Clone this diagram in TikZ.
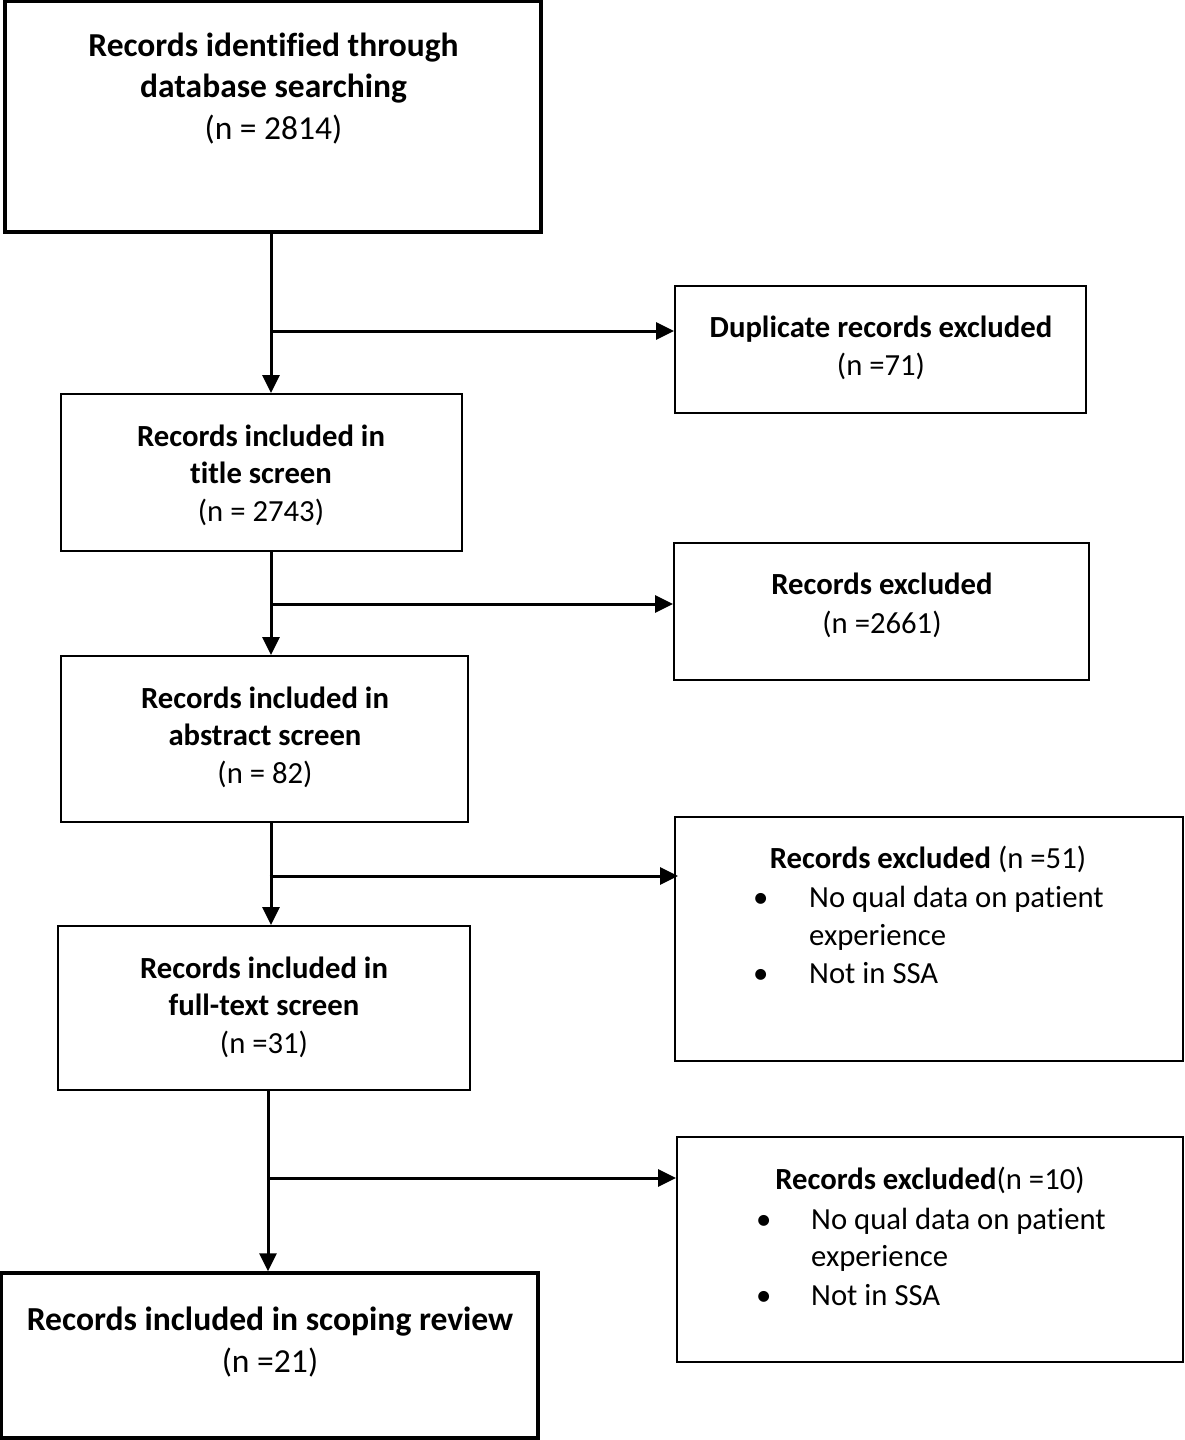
\documentclass[tikz,border=0pt]{standalone}
\usepackage{fontspec}
\setmainfont{Carlito}[Ligatures={NoCommon,NoContextual}]
\usetikzlibrary{arrows.meta}
\begin{document}
\begin{tikzpicture}[x=1pt,y=-1pt,
  thinbox/.style={draw=black,line width=2pt,rectangle,inner sep=0pt},
  thickbox/.style={draw=black,line width=3.5pt,rectangle,inner sep=0pt},
  big/.style={font=\fontsize{33.5}{41}\selectfont,anchor=base,inner sep=0pt},
  sml/.style={font=\fontsize{30.7}{37}\selectfont,anchor=base,inner sep=0pt},
  fin/.style={font=\fontsize{33.6}{42}\selectfont,anchor=base,inner sep=0pt},
  bul/.style={font=\fontsize{30.7}{37}\selectfont,anchor=base west,inner sep=0pt},
  arr/.style={line width=3pt,-{Triangle[length=18pt,width=17pt]}}]
\useasboundingbox (0,0) rectangle (1184,1440);
% boxes
\node[thickbox,minimum width=536pt,minimum height=231pt] (A) at (273,116.5) {};
\node[thinbox,minimum width=411pt,minimum height=127pt] (dup) at (880.5,349.5) {};
\node[thinbox,minimum width=401pt,minimum height=157pt] (title) at (261.5,472.5) {};
\node[thinbox,minimum width=415pt,minimum height=137pt] (exa) at (881.5,611.5) {};
\node[thinbox,minimum width=407pt,minimum height=166pt] (abs) at (264.5,739) {};
\node[thinbox,minimum width=508pt,minimum height=244pt] (exb) at (929,939) {};
\node[thinbox,minimum width=412pt,minimum height=164pt] (full) at (264,1008) {};
\node[thinbox,minimum width=506pt,minimum height=225pt] (exc) at (930,1249.5) {};
\node[thickbox,minimum width=537pt,minimum height=165pt] (final) at (269.5,1355.5) {};
% texts
\node[big] (a1) at (273.5,56.5) {\textbf{Records identified through}};
\node[big] (a2) at (273.5,97.5) {\textbf{database searching}};
\node[big] (a3) at (273.5,139.5) {(n = 2814)};
\node[sml] (d1) at (881,337.5) {\textbf{Duplicate records excluded}};
\node[sml] (d2) at (881,375.5) {(n =71)};
\node[sml] (t1) at (261,446.5) {\textbf{Records included in}};
\node[sml] (t2) at (261,483.5) {\textbf{title screen}};
\node[sml] (t3) at (261,521.5) {(n = 2743)};
\node[sml] (e1) at (882,594.5) {\textbf{Records excluded}};
\node[sml] (e2) at (882,633.5) {(n =2661)};
\node[sml] (b1) at (265,708.5) {\textbf{Records included in}};
\node[sml] (b2) at (265,745.5) {\textbf{abstract screen}};
\node[sml] (b3) at (265,783.5) {(n = 82)};
\node[sml] (f1) at (264,978.5) {\textbf{Records included in}};
\node[sml] (f2) at (264,1015.5) {\textbf{full-text screen}};
\node[sml] (f3) at (264,1053.5) {(n =31)};
\node[fin] (g1) at (270,1330) {\textbf{Records included in scoping review}};
\node[fin] (g2) at (270,1372) {(n =21)};
% bullet box 1
\node[sml] (h1) at (928,868.5) {\textbf{Records excluded} (n =51)};
\node[bul] (h2) at (753,907.5) {\textbullet};
\node[bul] (h3) at (809,907.5) {No qual data on patient};
\node[bul] (h4) at (809,945.5) {experience};
\node[bul] (h5) at (753,983.5) {\textbullet};
\node[bul] (h6) at (809,983.5) {Not in SSA};
% bullet box 2
\node[sml] (k1) at (930,1189.5) {\textbf{Records excluded}(n =10)};
\node[bul] (k2) at (756,1229.5) {\textbullet};
\node[bul] (k3) at (811,1229.5) {No qual data on patient};
\node[bul] (k4) at (811,1266.5) {experience};
\node[bul] (k5) at (756,1305.5) {\textbullet};
\node[bul] (k6) at (811,1305.5) {Not in SSA};
% connectors
\coordinate (j1) at (271,331);
\coordinate (j2) at (271,604);
\coordinate (j3) at (271,876);
\coordinate (j4) at (268,1178);
\draw[arr] (A.south -| j1) -- (title.north -| j1);
\draw[arr] (j1) -- (dup.west |- j1);
\draw[arr] (title.south -| j2) -- (abs.north -| j2);
\draw[arr] (j2) -- (exa.west |- j2);
\draw[arr] (abs.south -| j3) -- (full.north -| j3);
\draw[arr] ([xshift=-1.5pt]j3) -- ([xshift=4pt]exb.west |- j3);
\draw[arr] (full.south -| j4) -- (final.north -| j4);
\draw[arr] (j4) -- (exc.west |- j4);
\end{tikzpicture}
\end{document}
